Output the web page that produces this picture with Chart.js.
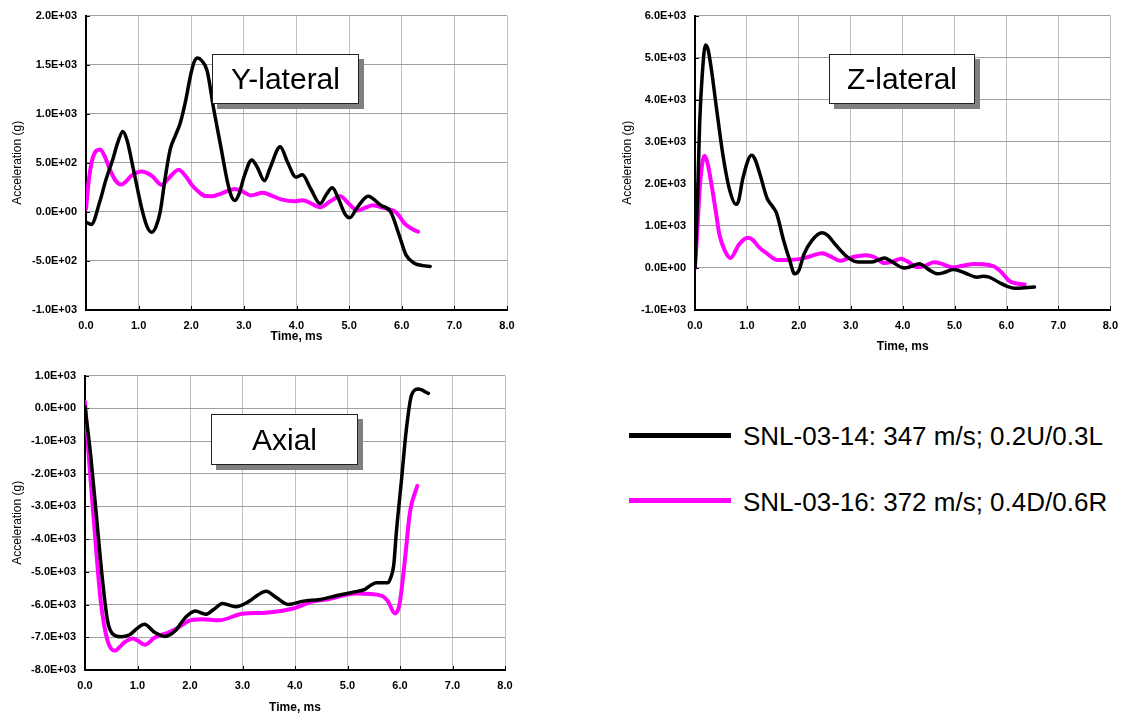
<!DOCTYPE html>
<html>
<head>
<meta charset="utf-8">
<script src="https://cdn.jsdelivr.net/npm/chart.js@4.4.1/dist/chart.umd.min.js"></script>
<style>
  html, body { margin: 0; padding: 0; background: #fff; }
  #page { position: relative; width: 1127px; height: 719px; overflow: hidden; background: #fff;
          font-family: "Liberation Sans", Arial, sans-serif; }
  #page canvas { position: absolute; }
  .tag { position: absolute; box-sizing: border-box; border: 1px solid #222; background: #fff;
         box-shadow: 5px 5px 0 #808080; font-size: 30px; color: #000;
         display: flex; align-items: center; justify-content: center; }
  .key { position: absolute; width: 102px; height: 5px; }
  .keytext { position: absolute; font-size: 26px; line-height: 30px; color: #000; white-space: nowrap; }
</style>
</head>
<body>
<div id="page">
  <canvas id="chartY" width="560" height="350" style="left:0;top:0"></canvas>
  <canvas id="chartZ" width="527" height="360" style="left:600px;top:0"></canvas>
  <canvas id="chartA" width="560" height="359" style="left:0;top:360px"></canvas>

  <div class="tag" style="left:212px;top:54px;width:147px;height:50px">Y-lateral</div>
  <div class="tag" style="left:829px;top:54px;width:146px;height:50px">Z-lateral</div>
  <div class="tag" style="left:211px;top:414px;width:147px;height:51px">Axial</div>

  <div class="key" style="left:629px;top:433px;background:#000"></div>
  <div class="keytext" style="left:743px;top:421px">SNL-03-14: 347 m/s; 0.2U/0.3L</div>
  <div class="key" style="left:629px;top:498px;background:#ff00ff"></div>
  <div class="keytext" style="left:743px;top:487px">SNL-03-16: 372 m/s; 0.4D/0.6R</div>
</div>

<script>
// Series names
const seriesNames = ['SNL-03-14: 347 m/s; 0.2U/0.3L', 'SNL-03-16: 372 m/s; 0.4D/0.6R'];

// Time axis (ms)
const timeTicks  = [0, 1, 2, 3, 4, 5, 6, 7, 8];
const timeLabels = ['0.0', '1.0', '2.0', '3.0', '4.0', '5.0', '6.0', '7.0', '8.0'];

// Y-lateral acceleration (g)
const yLatTicks  = [-1000, -500, 0, 500, 1000, 1500, 2000];
const yLatLabels = ['-1.0E+03', '-5.0E+02', '0.0E+00', '5.0E+02', '1.0E+03', '1.5E+03', '2.0E+03'];
const yLatTime14 = [0, 0.10, 0.26, 0.38, 0.51, 0.60, 0.70, 0.78, 0.90, 1.06, 1.16, 1.25, 1.33, 1.41, 1.50, 1.60, 1.70, 1.79, 1.90, 1.98, 2.05, 2.12, 2.20, 2.30, 2.43, 2.56, 2.69, 2.77, 2.83, 2.90, 3.01, 3.15, 3.25, 3.39, 3.50, 3.69, 3.83, 3.99, 4.11, 4.27, 4.45, 4.57, 4.68, 4.80, 4.92, 5.01, 5.15, 5.36, 5.60, 5.79, 5.95, 6.08, 6.24, 6.40, 6.54];
const yLatAcc14  = [-105, -128, 100, 330, 536, 700, 820, 730, 435, 33, -150, -208, -150, 0, 330, 636, 780, 904, 1150, 1373, 1520, 1567, 1540, 1440, 1038, 670, 301, 150, 117, 170, 368, 529, 460, 318, 450, 663, 506, 354, 378, 236, 84, 180, 246, 130, -20, -61, 40, 158, 67, 0, -236, -438, -523, -548, -556];
const yLatTime16 = [0, 0.06, 0.13, 0.27, 0.36, 0.45, 0.56, 0.67, 0.76, 0.86, 1.06, 1.25, 1.44, 1.55, 1.76, 1.90, 2.02, 2.15, 2.27, 2.40, 2.56, 2.83, 3.00, 3.13, 3.36, 3.55, 3.71, 3.97, 4.11, 4.30, 4.45, 4.65, 4.83, 5.00, 5.16, 5.30, 5.45, 5.65, 5.86, 5.95, 6.05, 6.20, 6.31];
const yLatAcc16  = [30, 350, 553, 636, 560, 435, 320, 278, 310, 368, 412, 368, 275, 330, 429, 360, 268, 200, 161, 160, 184, 234, 200, 167, 194, 160, 127, 107, 118, 80, 47, 110, 158, 80, 13, 40, 67, 40, 7, -40, -118, -175, -202];

// Z-lateral acceleration (g)
const zLatTicks  = [-1000, 0, 1000, 2000, 3000, 4000, 5000, 6000];
const zLatLabels = ['-1.0E+03', '0.0E+00', '1.0E+03', '2.0E+03', '3.0E+03', '4.0E+03', '5.0E+03', '6.0E+03'];
const zLatTime14 = [0, 0.05, 0.09, 0.14, 0.20, 0.25, 0.31, 0.41, 0.54, 0.66, 0.79, 0.84, 0.92, 1.09, 1.15, 1.24, 1.39, 1.50, 1.57, 1.71, 1.82, 1.92, 2.00, 2.10, 2.25, 2.45, 2.55, 2.70, 2.96, 3.15, 3.40, 3.55, 3.65, 3.78, 4.03, 4.15, 4.32, 4.50, 4.67, 4.80, 4.98, 5.20, 5.43, 5.55, 5.65, 5.85, 6.00, 6.19, 6.35, 6.54];
const zLatAcc14  = [0, 1700, 3445, 4600, 5300, 5200, 4770, 3835, 2666, 1886, 1512, 1600, 2120, 2681, 2600, 2276, 1652, 1450, 1302, 639, 200, -140, -60, 327, 650, 834, 780, 561, 234, 141, 141, 200, 234, 156, 0, 30, 102, -40, -141, -110, -39, -120, -219, -200, -211, -340, -430, -484, -470, -453];
const zLatTime16 = [0, 0.05, 0.09, 0.18, 0.24, 0.31, 0.40, 0.47, 0.58, 0.68, 0.85, 1.01, 1.10, 1.24, 1.40, 1.59, 1.80, 2.00, 2.15, 2.45, 2.60, 2.80, 2.96, 3.30, 3.45, 3.65, 3.80, 3.97, 4.10, 4.29, 4.45, 4.60, 4.75, 4.95, 5.15, 5.37, 5.55, 5.75, 5.90, 6.06, 6.20, 6.35];
const zLatAcc16  = [0, 1000, 1886, 2666, 2500, 2042, 1350, 795, 400, 234, 561, 717, 680, 483, 330, 187, 190, 210, 250, 351, 280, 171, 234, 300, 260, 117, 150, 219, 150, 16, 60, 133, 100, 16, 50, 94, 90, 39, -100, -313, -370, -391];

// Axial acceleration (g)
const axialTicks  = [-8000, -7000, -6000, -5000, -4000, -3000, -2000, -1000, 0, 1000];
const axialLabels = ['-8.0E+03', '-7.0E+03', '-6.0E+03', '-5.0E+03', '-4.0E+03', '-3.0E+03', '-2.0E+03', '-1.0E+03', '0.0E+00', '1.0E+03'];
const axialTime14 = [0, 0.11, 0.24, 0.33, 0.43, 0.53, 0.69, 0.85, 1.00, 1.13, 1.33, 1.52, 1.72, 1.91, 2.10, 2.30, 2.45, 2.62, 2.87, 3.13, 3.30, 3.45, 3.65, 3.87, 4.16, 4.48, 4.80, 5.13, 5.32, 5.45, 5.55, 5.77, 5.83, 5.88, 5.93, 6.03, 6.12, 6.22, 6.35, 6.54];
const axialAcc14  = [50, -1460, -3677, -5190, -6500, -6903, -6984, -6923, -6720, -6601, -6853, -6974, -6802, -6399, -6197, -6298, -6150, -5965, -6066, -5895, -5700, -5593, -5794, -5996, -5895, -5845, -5724, -5613, -5542, -5400, -5333, -5330, -5150, -4800, -3800, -2165, -653, 405, 587, 456];
const axialTime16 = [0, 0.08, 0.21, 0.30, 0.43, 0.57, 0.66, 0.75, 0.91, 1.00, 1.14, 1.33, 1.59, 1.78, 1.97, 2.23, 2.55, 3.00, 3.45, 3.97, 4.35, 4.61, 5.00, 5.19, 5.64, 5.77, 5.90, 5.99, 6.09, 6.19, 6.33];
const axialAcc16  = [200, -1663, -4284, -5897, -7107, -7409, -7300, -7157, -7036, -7100, -7228, -7006, -6855, -6703, -6502, -6451, -6482, -6280, -6250, -6119, -5897, -5846, -5695, -5665, -5726, -5897, -6270, -5998, -4687, -3175, -2369];

const FONT = '"Liberation Sans", Arial, sans-serif';
const zip = (t, v) => t.map((x, i) => ({ x, y: v[i] }));

// Short tick marks drawn inward from the left and bottom axis lines
const innerTicks = {
  id: 'innerTicks',
  beforeDatasetsDraw(chart) {
    const { ctx, chartArea: a, scales } = chart;
    ctx.save();
    ctx.strokeStyle = '#000';
    ctx.lineWidth = 1;
    ctx.beginPath();
    scales.x.ticks.forEach(t => {
      const px = Math.round(scales.x.getPixelForValue(t.value)) + 0.5;
      ctx.moveTo(px, a.bottom); ctx.lineTo(px, a.bottom - 4);
    });
    scales.y.ticks.forEach(t => {
      const py = Math.round(scales.y.getPixelForValue(t.value)) + 0.5;
      ctx.moveTo(a.left, py); ctx.lineTo(a.left + 4, py);
    });
    ctx.stroke();
    ctx.restore();
  }
};

function makeChart(id, s) {
  return new Chart(document.getElementById(id), {
    type: 'line',
    data: {
      datasets: [
        { label: seriesNames[0], data: zip(s.t14, s.a14), borderColor: '#000000', borderWidth: 3.5 },
        { label: seriesNames[1], data: zip(s.t16, s.a16), borderColor: '#ff00ff', borderWidth: 4 }
      ]
    },
    options: {
      responsive: false,
      animation: false,
      events: [],
      layout: { padding: { top: s.padTop, right: s.padRight, left: 0, bottom: 0 } },
      plugins: { legend: { display: false }, tooltip: { enabled: false } },
      elements: {
        point: { radius: 0 },
        line: { cubicInterpolationMode: 'monotone', fill: false, borderJoinStyle: 'round', borderCapStyle: 'round' }
      },
      scales: {
        x: {
          type: 'linear', min: 0, max: 8,
          afterBuildTicks: ax => { ax.ticks = timeTicks.map(v => ({ value: v })); },
          afterFit: ax => { ax.height = s.xHeight; },
          grid: { color: '#c0c0c0', lineWidth: 1, drawTicks: false },
          border: { color: '#000', width: 2 },
          ticks: { padding: 9, color: '#000', autoSkip: false, maxRotation: 0,
                   font: { family: FONT, size: 11, weight: 'bold' },
                   callback: (v, i) => timeLabels[i] },
          title: { display: true, text: 'Time, ms', color: '#000',
                   font: { family: FONT, size: 12, weight: 'bold' },
                   padding: { top: 0, bottom: s.xTitlePad } }
        },
        y: {
          type: 'linear', min: s.yTicks[0], max: s.yTicks[s.yTicks.length - 1],
          afterBuildTicks: ax => { ax.ticks = s.yTicks.map(v => ({ value: v })); },
          afterFit: ax => { ax.width = s.yWidth; },
          grid: { color: '#a0a0a0', lineWidth: 1, drawTicks: false },
          border: { color: '#000', width: 2 },
          ticks: { padding: 9, color: '#000', autoSkip: false,
                   font: { family: FONT, size: 11, weight: 'bold' },
                   callback: (v, i) => s.yLabels[i] },
          title: { display: true, text: 'Acceleration (g)', color: '#000',
                   font: { family: FONT, size: 12 },
                   padding: { top: s.yTitlePad, bottom: 0 } }
        }
      }
    },
    plugins: [innerTicks]
  });
}

makeChart('chartY', {
  t14: yLatTime14, a14: yLatAcc14, t16: yLatTime16, a16: yLatAcc16,
  yTicks: yLatTicks, yLabels: yLatLabels,
  yWidth: 86, xHeight: 40, padTop: 12, padRight: 53, yTitlePad: 10, xTitlePad: 6
});
makeChart('chartZ', {
  t14: zLatTime14, a14: zLatAcc14, t16: zLatTime16, a16: zLatAcc16,
  yTicks: zLatTicks, yLabels: zLatLabels,
  yWidth: 95, xHeight: 50, padTop: 12, padRight: 16, yTitlePad: 20, xTitlePad: 6
});
makeChart('chartA', {
  t14: axialTime14, a14: axialAcc14, t16: axialTime16, a16: axialAcc16,
  yTicks: axialTicks, yLabels: axialLabels,
  yWidth: 85, xHeight: 49, padTop: 12, padRight: 55, yTitlePad: 10, xTitlePad: 4
});
</script>
</body>
</html>
